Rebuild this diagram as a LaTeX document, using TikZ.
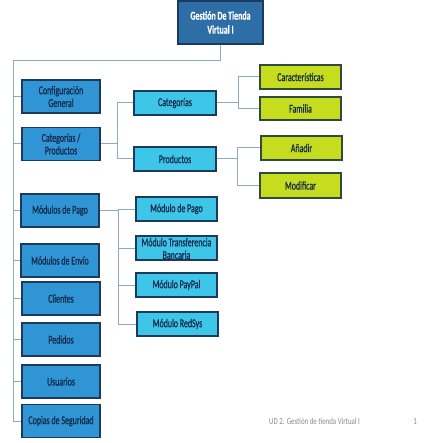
\documentclass[tikz,border=0pt]{standalone}
\usepackage{fontspec}
\setmainfont{Carlito}[FakeStretch=0.66, FakeBold=0.7]
\definecolor{rootfill}{HTML}{2E6EA6}
\definecolor{navy}{HTML}{1C3A5E}
\definecolor{leftfill}{HTML}{2F95D4}
\definecolor{midfill}{HTML}{3EC6E8}
\definecolor{greenfill}{HTML}{C6DC1E}
\definecolor{greenborder}{HTML}{2E4B3E}
\definecolor{txt}{HTML}{13294B}
\definecolor{conn}{HTML}{8FA9C2}
\definecolor{foot}{HTML}{8A8A8A}
\newfontfamily\footfont{Carlito}[FakeStretch=0.75]
\tikzset{
  box/.style={draw=navy, line width=1.8pt, inner sep=1pt, align=center,
    font=\fontsize{12}{12.7}\selectfont, text=txt},
  rootbox/.style={box, fill=rootfill, text=white, minimum width=85pt, minimum height=43pt,
    font=\fontsize{12}{14}\selectfont\bfseries},
  leftbox/.style={box, fill=leftfill, minimum width=78pt, minimum height=33pt},
  midbox/.style={box, fill=midfill, minimum width=82pt, minimum height=24pt},
  greenbox/.style={box, fill=greenfill, draw=greenborder, minimum width=81pt, minimum height=24pt},
  connline/.style={draw=conn, line width=1pt},
  footer/.style={text=foot, font=\footfont\fontsize{9.2}{11}\selectfont, inner sep=0pt}
}
\begin{document}
\begin{tikzpicture}[x=1pt,y=-1pt]
\useasboundingbox (0,0) rectangle (443,443);
% root
\node[rootbox] (root) at (220.5,22.5) {Gestión De Tienda\\Virtual I};
% left column
\node[leftbox] (conf) at (61,96.5) {Configuración\\General};
\node[leftbox] (catprod) at (61,144) {Categorías /\\Productos};
\node[leftbox] (mpago) at (60,210.5) {Módulos de Pago};
\node[leftbox] (menvio) at (60,260.5) {Módulos de Envío};
\node[leftbox] (clientes) at (61,298.5) {Clientes};
\node[leftbox] (pedidos) at (61,339.5) {Pedidos};
\node[leftbox] (usuarios) at (61,381.5) {Usuarios};
\node[leftbox] (copias) at (61,421) {Copias de Seguridad};
% middle column
\node[midbox] (cat) at (175,103) {Categorías};
\node[midbox] (prod) at (175,159) {Productos};
\node[midbox, minimum width=81pt] (mp1) at (176.5,209) {Módulo de Pago};
\node[midbox, minimum width=81pt] (mtrans) at (176.5,248) {};
\node[text=txt, font=\fontsize{12}{12.7}\selectfont, align=center, inner sep=0pt] (mtranstext) at (176.5,248.5) {Módulo Transferencia\\Bancaria};
\node[midbox, minimum width=81pt] (mpaypal) at (176.5,285) {Módulo PayPal};
\node[midbox, minimum width=81pt] (mredsys) at (177.5,324) {Módulo RedSys};
% right column
\node[greenbox] (caract) at (300.5,77) {Características};
\node[greenbox, minimum height=23pt] (familia) at (300.5,108.5) {Familia};
\node[greenbox] (anadir) at (301.5,148) {Añadir};
\node[greenbox, minimum height=25pt] (modif) at (300.5,185.5) {Modificar};
% junction coordinates
\coordinate (t0) at (13,61);
\coordinate (b1) at (117,144);
\coordinate (b2) at (238,103);
\coordinate (b3) at (237,159);
\coordinate (b4) at (118,210.5);
% trunk
\draw[connline] (root.south) |- (t0) |- (copias.west);
\foreach \n in {conf,catprod,mpago,menvio,clientes,pedidos,usuarios}
  \draw[connline] (\n.west) -- (\n.west -| t0);
% categorias / productos
\draw[connline] (catprod.east) -- (b1);
\draw[connline] (cat.west) -| (b1);
\draw[connline] (prod.west) -| (b1);
% categorias subtree
\draw[connline] (cat.east) -- (b2);
\draw[connline] (caract.west) -| (b2);
\draw[connline] (familia.west) -| (b2);
% productos subtree
\draw[connline] (prod.east) -- (b3);
\draw[connline] (anadir.west) -| (b3);
\draw[connline] (modif.west) -| (b3);
% modulos de pago subtree
\draw[connline] (mpago.east) -- (b4);
\draw[connline] (mp1.west) -| (b4);
\draw[connline] (mtrans.west) -| (b4);
\draw[connline] (mpaypal.west) -| (b4);
\draw[connline] (mredsys.west) -| (b4);
% footer
\node[footer, anchor=west] (foottext) at (269,421) {UD 2. Gestión de tienda Virtual I};
\node[footer] (pagenum) at (415,422) {1};
\end{tikzpicture}
\end{document}
